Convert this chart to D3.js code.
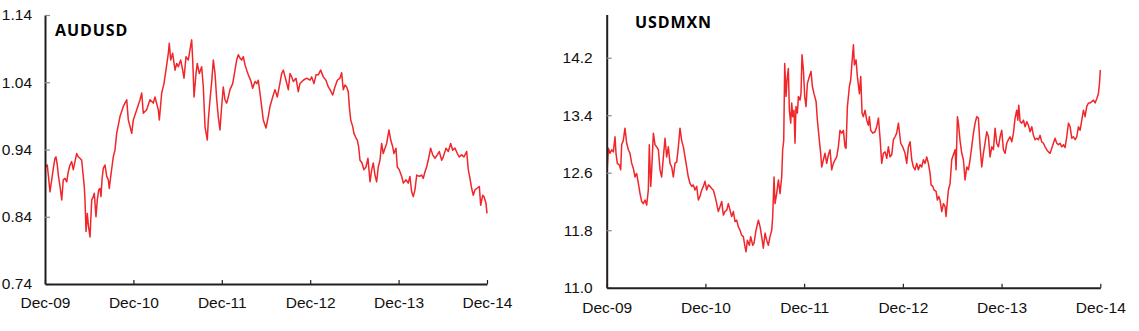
<!DOCTYPE html>
<html>
<head>
<meta charset="utf-8">
<script src="https://cdn.jsdelivr.net/npm/d3@7/dist/d3.min.js"></script>
<style>
  html, body { margin: 0; padding: 0; background: #fff; }
  svg { display: block; }
</style>
</head>
<body>
<svg id="chart" width="1139" height="331"></svg>
<script>
// ---------- DATA (months since Dec-09, value) ----------
const xTickMonths = [0, 12, 24, 36, 48, 60];
const xTickLabels = ["Dec-09", "Dec-10", "Dec-11", "Dec-12", "Dec-13", "Dec-14"];

const audTicks = [0.74, 0.84, 0.94, 1.04, 1.14];
const mxnTicks = [11.0, 11.8, 12.6, 13.4, 14.2];

const audusd = [
[0.14,0.914],[0.31,0.917],[0.45,0.902],[0.68,0.877],[0.91,0.895],[1.13,0.912],[1.36,0.927],[1.49,0.929],[1.67,0.917],[1.81,0.902],
[2.04,0.885],[2.27,0.865],[2.48,0.895],[2.71,0.897],[2.95,0.892],[3.16,0.907],[3.39,0.917],[3.62,0.922],[3.84,0.910],[4.07,0.922],
[4.30,0.934],[4.52,0.929],[4.75,0.927],[4.98,0.924],[5.20,0.900],[5.33,0.885],[5.43,0.865],[5.57,0.818],[5.74,0.845],[5.88,0.828],
[6.11,0.810],[6.34,0.865],[6.56,0.870],[6.69,0.875],[6.92,0.840],[7.10,0.865],[7.29,0.880],[7.47,0.882],[7.60,0.870],[7.74,0.895],
[7.91,0.912],[8.14,0.917],[8.38,0.900],[8.59,0.895],[8.73,0.882],[8.92,0.900],[9.09,0.914],[9.27,0.929],[9.50,0.939],[9.73,0.964],
[10.18,0.989],[10.63,1.004],[11.09,1.014],[11.31,0.984],[11.77,0.964],[11.99,0.984],[12.45,0.999],[12.90,1.014],[13.13,1.024],[13.34,0.994],
[13.80,0.999],[14.25,1.014],[14.70,1.009],[14.93,1.018],[15.38,0.999],[15.52,0.984],[15.84,1.024],[16.15,1.038],[16.42,1.058],[16.74,1.083],
[16.87,1.098],[17.06,1.073],[17.33,1.083],[17.65,1.058],[17.88,1.068],[18.09,1.063],[18.42,1.073],[18.69,1.058],[18.87,1.046],[19.14,1.078],
[19.45,1.073],[19.68,1.088],[19.91,1.103],[20.05,1.073],[20.23,1.018],[20.50,1.053],[20.67,1.068],[20.95,1.053],[21.27,1.063],[21.49,1.033],
[21.72,0.974],[22.03,0.954],[22.17,0.984],[22.40,1.014],[22.63,1.041],[22.85,1.073],[23.08,1.053],[23.31,1.014],[23.52,0.989],[23.75,0.969],
[23.98,1.004],[24.20,1.033],[24.43,1.014],[24.66,1.009],[24.88,1.018],[25.11,1.029],[25.48,1.038],[25.79,1.058],[26.02,1.073],[26.24,1.081],
[26.47,1.076],[26.70,1.073],[26.92,1.078],[27.15,1.066],[27.38,1.058],[27.60,1.051],[27.92,1.043],[28.19,1.031],[28.51,1.041],[28.74,1.038],
[28.95,1.043],[29.18,1.024],[29.41,1.004],[29.63,0.984],[30.00,0.972],[30.31,0.989],[30.54,1.004],[30.91,1.018],[31.22,1.029],[31.53,1.018],
[31.80,1.033],[32.13,1.053],[32.35,1.058],[32.71,1.043],[33.03,1.029],[33.26,1.053],[33.49,1.048],[33.71,1.041],[34.07,1.046],[34.38,1.026],
[34.61,1.038],[35.06,1.043],[35.52,1.046],[35.97,1.043],[36.20,1.048],[36.51,1.038],[36.79,1.051],[37.10,1.051],[37.42,1.058],[37.78,1.048],
[38.14,1.043],[38.46,1.033],[38.69,1.029],[39.05,1.021],[39.36,1.033],[39.68,1.043],[40.04,1.046],[40.27,1.054],[40.49,1.029],[40.72,1.036],
[40.95,1.033],[41.17,1.026],[41.31,1.004],[41.50,0.984],[41.77,0.974],[41.94,0.964],[42.22,0.957],[42.39,0.954],[42.58,0.944],[42.76,0.924],
[43.03,0.920],[43.30,0.910],[43.57,0.914],[43.84,0.927],[44.12,0.892],[44.35,0.910],[44.56,0.920],[44.79,0.902],[45.02,0.892],[45.24,0.914],
[45.47,0.924],[45.70,0.949],[45.92,0.934],[46.15,0.942],[46.38,0.949],[46.69,0.969],[46.93,0.954],[47.20,0.944],[47.37,0.934],[47.64,0.942],
[47.82,0.914],[48.09,0.910],[48.42,0.900],[48.64,0.890],[49.00,0.895],[49.31,0.890],[49.54,0.900],[49.77,0.877],[49.99,0.870],[50.22,0.880],
[50.46,0.902],[50.81,0.900],[51.13,0.902],[51.35,0.897],[51.58,0.907],[51.81,0.914],[52.08,0.927],[52.35,0.942],[52.63,0.932],[52.94,0.927],
[53.25,0.932],[53.52,0.937],[53.85,0.924],[54.07,0.929],[54.43,0.942],[54.75,0.937],[55.07,0.949],[55.34,0.939],[55.65,0.942],[55.97,0.934],
[56.24,0.929],[56.56,0.932],[56.87,0.929],[57.24,0.937],[57.46,0.910],[57.69,0.897],[57.92,0.882],[58.14,0.872],[58.37,0.880],[58.60,0.882],
[58.96,0.885],[59.14,0.857],[59.42,0.872],[59.59,0.870],[59.86,0.860],[60.00,0.845]
];

const usdmxn = [
[0.08,12.68],[0.20,12.94],[0.40,12.87],[0.60,12.92],[0.81,12.89],[1.01,13.10],[1.13,12.87],[1.29,12.73],[1.54,12.71],[1.70,12.64],
[1.82,12.99],[2.02,13.05],[2.22,13.22],[2.43,13.01],[2.63,12.92],[2.83,12.87],[3.04,12.73],[3.24,12.66],[3.44,12.54],[3.64,12.59],
[3.85,12.45],[4.05,12.31],[4.25,12.20],[4.45,12.17],[4.66,12.22],[4.86,12.15],[5.06,12.36],[5.18,12.99],[5.35,12.41],[5.47,12.64],
[5.67,13.15],[5.87,12.99],[6.07,12.96],[6.28,12.92],[6.48,12.64],[6.68,12.54],[6.89,12.82],[7.09,13.08],[7.29,12.82],[7.49,12.96],
[7.70,12.73],[7.90,12.68],[8.10,12.54],[8.30,12.73],[8.51,12.75],[8.71,12.96],[8.91,13.22],[9.11,13.05],[9.32,12.96],[9.52,12.82],
[9.72,12.68],[9.92,12.54],[10.13,12.45],[10.33,12.41],[10.53,12.43],[10.74,12.36],[10.94,12.41],[11.14,12.22],[11.34,12.27],[11.55,12.36],
[11.75,12.41],[11.95,12.48],[12.15,12.36],[12.36,12.43],[12.56,12.41],[12.76,12.38],[12.96,12.36],[13.17,12.27],[13.37,12.17],[13.57,12.06],
[13.78,12.13],[13.98,12.20],[14.18,12.01],[14.38,12.06],[14.59,12.08],[14.79,12.17],[14.99,12.08],[15.19,11.99],[15.40,12.06],[15.60,11.92],
[15.80,11.94],[16.00,11.85],[16.21,11.80],[16.41,11.73],[16.61,11.71],[16.81,11.57],[16.94,11.50],[17.10,11.66],[17.34,11.59],[17.50,11.71],
[17.75,11.59],[17.91,11.62],[18.15,11.80],[18.44,11.94],[18.64,11.85],[18.84,11.71],[19.04,11.55],[19.25,11.76],[19.45,11.66],[19.65,11.59],
[19.85,11.71],[20.06,11.80],[20.18,11.99],[20.34,12.54],[20.46,12.17],[20.66,12.31],[20.87,12.50],[21.07,12.31],[21.27,12.54],[21.39,12.92],
[21.52,13.05],[21.64,14.12],[21.80,13.66],[21.92,13.89],[22.08,14.05],[22.20,13.47],[22.37,13.29],[22.49,13.57],[22.61,13.38],[22.77,13.47],
[22.89,13.01],[23.01,13.52],[23.18,13.43],[23.30,13.66],[23.50,13.61],[23.62,13.70],[23.74,14.24],[23.91,14.03],[24.07,13.66],[24.23,13.52],
[24.39,13.84],[24.64,13.94],[24.84,14.01],[25.00,13.80],[25.20,13.70],[25.45,13.59],[25.61,13.33],[25.85,13.05],[26.01,12.87],[26.14,12.68],
[26.34,12.78],[26.54,12.87],[26.74,12.73],[26.95,12.85],[27.15,12.92],[27.35,12.64],[27.55,12.73],[27.76,12.78],[27.96,12.82],[28.16,12.96],
[28.36,13.19],[28.57,13.15],[28.77,13.19],[28.97,12.96],[29.09,12.94],[29.26,13.52],[29.50,13.80],[29.66,13.89],[29.78,14.08],[29.99,14.38],
[30.11,14.10],[30.31,14.17],[30.47,13.94],[30.72,13.70],[30.88,13.94],[31.04,13.43],[31.20,13.38],[31.40,13.47],[31.61,13.33],[31.81,13.26],
[31.93,13.38],[32.09,13.19],[32.34,13.15],[32.62,13.17],[32.82,13.24],[33.03,13.36],[33.23,13.08],[33.43,12.73],[33.63,12.87],[33.84,12.89],
[34.04,12.80],[34.24,12.96],[34.44,12.82],[34.65,12.85],[34.85,13.06],[35.05,13.10],[35.25,13.15],[35.46,13.29],[35.58,13.17],[35.74,13.01],
[35.98,12.96],[36.27,12.87],[36.47,12.73],[36.67,12.96],[36.88,13.03],[37.08,12.78],[37.28,12.68],[37.48,12.64],[37.69,12.73],[37.89,12.64],
[38.09,12.71],[38.29,12.68],[38.50,12.78],[38.70,12.73],[38.90,12.82],[39.10,12.73],[39.31,12.59],[39.43,12.43],[39.63,12.41],[39.79,12.36],
[40.04,12.34],[40.20,12.22],[40.36,12.27],[40.52,12.22],[40.73,12.06],[40.93,12.17],[41.13,12.13],[41.25,11.99],[41.42,12.22],[41.54,12.36],
[41.74,12.45],[41.94,12.78],[42.14,12.85],[42.35,12.92],[42.47,12.64],[42.63,13.38],[42.75,13.29],[42.95,13.05],[43.16,12.87],[43.36,12.78],
[43.56,12.50],[43.77,12.68],[43.97,12.64],[44.17,12.78],[44.37,12.96],[44.58,13.15],[44.78,13.29],[44.98,13.38],[45.18,13.36],[45.39,12.96],
[45.59,12.68],[45.79,12.87],[45.99,13.01],[46.20,13.17],[46.40,13.10],[46.60,12.82],[46.81,12.96],[47.01,12.92],[47.21,13.22],[47.41,13.01],
[47.62,12.96],[47.82,13.10],[48.02,13.19],[48.22,12.92],[48.43,12.87],[48.63,13.01],[48.83,13.06],[49.03,13.10],[49.24,13.03],[49.44,13.15],
[49.64,13.36],[49.84,13.47],[49.97,13.33],[50.09,13.54],[50.25,13.31],[50.45,13.29],[50.66,13.33],[50.86,13.24],[51.06,13.31],[51.26,13.26],
[51.47,13.17],[51.67,13.24],[51.87,13.12],[52.07,13.06],[52.28,13.08],[52.48,13.06],[52.68,13.12],[52.88,13.03],[53.09,13.01],[53.29,12.96],
[53.49,12.92],[53.69,12.89],[53.90,12.87],[54.10,12.94],[54.30,13.01],[54.50,13.08],[54.71,13.01],[54.91,12.99],[55.11,13.01],[55.32,12.96],
[55.52,12.99],[55.72,12.95],[55.92,13.10],[56.13,13.29],[56.33,13.24],[56.53,13.08],[56.73,13.10],[56.94,13.06],[57.14,13.10],[57.34,13.24],
[57.54,13.19],[57.75,13.33],[57.95,13.47],[58.15,13.38],[58.35,13.52],[58.56,13.57],[58.76,13.57],[58.96,13.59],[59.17,13.61],[59.37,13.57],
[59.57,13.63],[59.77,13.70],[59.90,13.84],[59.98,13.98],[60.00,14.03]
];

// ---------- DRAWING ----------
const svg = d3.select("#chart");
const FONT = "'Liberation Sans', Arial, sans-serif";
const LINE_COLOR = "#f0262b";

function panel(cfg) {
  const x = d3.scaleLinear().domain([0, 60]).range([cfg.x0, cfg.x1]);
  const y = d3.scaleLinear().domain(cfg.yDomain).range([cfg.yBottom, cfg.yTop]);
  const g = svg.append("g");

  // line
  g.append("path")
    .datum(cfg.data)
    .attr("fill", "none")
    .attr("stroke", LINE_COLOR)
    .attr("stroke-width", 1.5)
    .attr("stroke-linejoin", "round")
    .attr("d", d3.line().x(d => x(d[0])).y(d => y(d[1])));

  // y axis
  const yAxis = g.append("g")
    .attr("transform", `translate(${cfg.x0},0)`)
    .call(d3.axisLeft(y)
      .tickValues(cfg.yTicks)
      .tickFormat(cfg.yFormat)
      .tickSizeInner(-5)
      .tickSizeOuter(0)
      .tickPadding(cfg.yPad));
  yAxis.select(".domain").attr("stroke", "#231f20").attr("stroke-width", 2);
  yAxis.selectAll(".tick line").attr("stroke", "#8a8a8a").attr("stroke-width", 1.2);
  yAxis.selectAll(".tick text")
    .attr("font-family", FONT).attr("font-size", "15.5px").attr("fill", "#111");

  // x axis
  const xAxis = g.append("g")
    .attr("transform", `translate(0,${cfg.yBottom})`)
    .call(d3.axisBottom(x)
      .tickValues(xTickMonths)
      .tickFormat((d, i) => xTickLabels[i])
      .tickSizeInner(-4)
      .tickSizeOuter(0)
      .tickPadding(cfg.xPad));
  xAxis.select(".domain").attr("stroke", "#231f20").attr("stroke-width", 2);
  xAxis.selectAll(".tick line").attr("stroke", "#231f20").attr("stroke-width", 1.2);
  xAxis.selectAll(".tick text")
    .attr("font-family", FONT).attr("font-size", "15.5px").attr("fill", "#111");

  // title
  g.append("text")
    .attr("x", cfg.titleX).attr("y", cfg.titleY)
    .attr("font-family", "'Open Sans', sans-serif")
    .attr("font-weight", 700)
    .attr("font-size", "16px")
    .attr("letter-spacing", "0.9px")
    .attr("fill", "#000")
    .text(cfg.title);
}

panel({
  data: audusd, title: "AUDUSD", titleX: 55, titleY: 36,
  x0: 45, x1: 487, yTop: 15, yBottom: 284,
  yDomain: [0.74, 1.14], yTicks: audTicks, yFormat: d3.format(".2f"),
  yPad: 13, xPad: 13
});

panel({
  data: usdmxn, title: "USDMXN", titleX: 635, titleY: 28,
  x0: 606.7, x1: 1100.3, yTop: 14.6, yBottom: 287.7,
  yDomain: [11.0, 14.8], yTicks: mxnTicks, yFormat: d3.format(".1f"),
  yPad: 14, xPad: 14
});
</script>
</body>
</html>
